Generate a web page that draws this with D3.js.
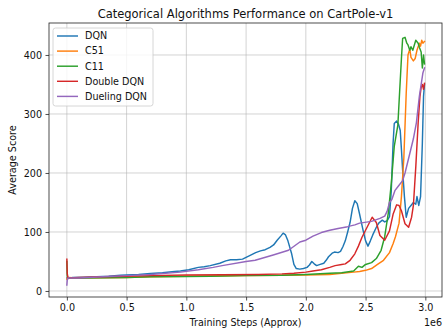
<!DOCTYPE html>
<html>
<head>
<meta charset="utf-8">
<script src="https://cdn.jsdelivr.net/npm/d3@7"></script>
<style>
  html, body { margin: 0; padding: 0; background: #ffffff; }
  svg { display: block; font-family: "DejaVu Sans", sans-serif; }
</style>
</head>
<body>
<svg id="chart" width="444" height="328"></svg>
<script>
// Training steps are in millions (axis offset label "1e6"); values are average episode scores.
const seriesNames = ["DQN", "C51", "C11", "Double DQN", "Dueling DQN"];
const seriesColors = ["#1f77b4", "#ff7f0e", "#2ca02c", "#d62728", "#9467bd"];

const dqn = [[0,22],[0.005,21],[0.05,23],[0.15,23.5],[0.25,24],[0.35,25],[0.45,26.5],[0.5,27],[0.6,28],[0.7,29.5],[0.8,31],[0.9,33],[0.95,34],[1.02,36],[1.1,40],[1.15,41],[1.2,43],[1.28,47],[1.33,51],[1.37,53],[1.42,53],[1.47,54],[1.5,57],[1.53,60],[1.58,65],[1.62,68],[1.66,70],[1.7,74],[1.73,78],[1.76,86],[1.79,93],[1.81,98],[1.83,95],[1.85,85],[1.88,64],[1.9,45],[1.92,38],[1.95,37],[1.98,38],[2.01,40],[2.03,44],[2.05,50],[2.07,46],[2.09,43],[2.12,45],[2.15,47],[2.17,52],[2.19,58],[2.22,64],[2.24,66],[2.27,65],[2.29,67],[2.31,75],[2.33,85],[2.35,100],[2.37,116],[2.39,140],[2.41,153],[2.43,148],[2.45,130],[2.48,102],[2.5,85],[2.52,76],[2.54,85],[2.56,95],[2.59,108],[2.61,115],[2.64,120],[2.66,117],[2.68,119],[2.7,126],[2.715,170],[2.73,250],[2.74,284],[2.76,288],[2.775,283],[2.79,272],[2.8,240],[2.81,205],[2.825,160],[2.84,125],[2.86,140],[2.88,145],[2.9,150],[2.92,147],[2.93,160],[2.945,145],[2.96,160],[2.975,250],[2.985,330],[2.993,350]];

const c51 = [[0,20],[0.005,23],[0.1,22],[0.3,22.5],[0.5,23],[0.7,24],[1.0,25],[1.2,25.5],[1.5,26],[1.8,26.5],[2.0,27],[2.2,28],[2.3,30],[2.4,32],[2.45,33],[2.5,35],[2.55,38],[2.6,45],[2.65,52],[2.7,65],[2.73,80],[2.75,92],[2.78,115],[2.8,160],[2.82,225],[2.84,335],[2.855,400],[2.87,410],[2.88,396],[2.9,390],[2.915,394],[2.93,408],[2.95,420],[2.96,415],[2.97,425],[2.98,420],[2.993,423]];

const c11 = [[0,50],[0.003,25],[0.01,22],[0.1,22],[0.3,22.5],[0.5,23],[0.7,24],[1.0,24.5],[1.2,25],[1.5,26],[1.8,26.5],[2.0,28],[2.2,30],[2.3,31],[2.4,34],[2.44,42],[2.47,40],[2.5,45],[2.55,48],[2.59,55],[2.63,69],[2.66,92],[2.69,132],[2.715,182],[2.74,245],[2.77,281],[2.785,338],[2.8,394],[2.81,428],[2.83,430],[2.845,420],[2.855,417],[2.87,408],[2.88,414],[2.895,408],[2.92,425],[2.94,420],[2.95,413],[2.965,405],[2.975,378],[2.985,400],[2.993,385]];

const doubleDqn = [[0,54],[0.003,30],[0.01,22],[0.1,23],[0.3,24],[0.5,25],[0.7,26],[1.0,27],[1.3,27.5],[1.6,28],[1.8,29],[1.9,30],[2.0,32],[2.06,34],[2.13,36],[2.2,40],[2.245,43],[2.3,45],[2.33,46],[2.37,52],[2.41,63],[2.44,76],[2.47,91],[2.52,111],[2.555,125],[2.59,116],[2.62,94],[2.66,86],[2.7,102],[2.73,130],[2.76,146],[2.78,145],[2.8,136],[2.83,114],[2.86,108],[2.885,125],[2.9,145],[2.92,210],[2.94,285],[2.955,330],[2.965,345],[2.975,350],[2.985,342],[2.993,352]];

const duelingDqn = [[0,10],[0.003,18],[0.01,22],[0.1,22],[0.3,24],[0.5,26],[0.7,28],[0.95,32],[1.1,36],[1.225,40],[1.3,43],[1.5,50],[1.576,52],[1.727,61],[1.855,69],[1.95,83],[2.0,86],[2.06,93],[2.13,99],[2.2,103],[2.27,106],[2.35,109],[2.41,112],[2.45,115],[2.55,118],[2.62,123],[2.66,127],[2.68,135],[2.7,150],[2.72,155],[2.745,170],[2.775,178],[2.81,187],[2.83,200],[2.87,233],[2.9,258],[2.925,285],[2.95,330],[2.98,370],[2.993,378]];

const xTicks = [0, 0.5, 1.0, 1.5, 2.0, 2.5, 3.0];
const yTicks = [0, 100, 200, 300, 400];

const allSeries = [dqn, c51, c11, doubleDqn, duelingDqn];

const svg = d3.select("#chart");
const plot = { left: 49, right: 442, top: 23, bottom: 297 };

const x = d3.scaleLinear().domain([-0.1495, 3.1395]).range([plot.left, plot.right]);
const y = d3.scaleLinear().domain([-10.2, 454.2]).range([plot.bottom, plot.top]);

// grid
const grid = svg.append("g");
grid.selectAll("line.vx").data(xTicks).join("line")
  .attr("x1", d => x(d)).attr("x2", d => x(d))
  .attr("y1", plot.top).attr("y2", plot.bottom)
  .attr("stroke", "#b0b0b0").attr("stroke-opacity", 0.7).attr("stroke-width", 0.8);
grid.selectAll("line.hy").data(yTicks).join("line")
  .attr("x1", plot.left).attr("x2", plot.right)
  .attr("y1", d => y(d)).attr("y2", d => y(d))
  .attr("stroke", "#b0b0b0").attr("stroke-opacity", 0.7).attr("stroke-width", 0.8);

// series lines
svg.append("defs").append("clipPath").attr("id", "clip")
  .append("rect").attr("x", plot.left).attr("y", plot.top)
  .attr("width", plot.right - plot.left).attr("height", plot.bottom - plot.top);

const line = d3.line().x(d => x(d[0])).y(d => y(d[1]));
svg.append("g").attr("clip-path", "url(#clip)")
  .selectAll("path").data(allSeries).join("path")
  .attr("d", line)
  .attr("fill", "none")
  .attr("stroke", (d, i) => seriesColors[i])
  .attr("stroke-width", 1.45)
  .attr("stroke-linejoin", "round")
  .attr("stroke-linecap", "square");

// axes
const xAxis = d3.axisBottom(x).tickValues(xTicks).tickFormat(d3.format(".1f")).tickSize(3.5).tickPadding(3.5);
const yAxis = d3.axisLeft(y).tickValues(yTicks).tickFormat(d3.format("d")).tickSize(3.5).tickPadding(3.5);

const gx = svg.append("g").attr("transform", `translate(0,${plot.bottom})`).call(xAxis);
const gy = svg.append("g").attr("transform", `translate(${plot.left},0)`).call(yAxis);
[gx, gy].forEach(g => {
  g.select(".domain").remove();
  g.selectAll(".tick line").attr("stroke", "#222").attr("stroke-width", 0.8);
  g.selectAll(".tick text").attr("fill", "#111")
    .style("font-family", "DejaVu Sans").style("font-size", "9.6px");
});

// spines
svg.append("rect")
  .attr("x", plot.left).attr("y", plot.top)
  .attr("width", plot.right - plot.left).attr("height", plot.bottom - plot.top)
  .attr("fill", "none").attr("stroke", "#222").attr("stroke-width", 0.8);

// title and axis labels
svg.append("text")
  .attr("x", (plot.left + plot.right) / 2).attr("y", 17.5)
  .attr("text-anchor", "middle").attr("fill", "#111")
  .style("font-size", "11.5px")
  .text("Categorical Algorithms Performance on CartPole-v1");

svg.append("text")
  .attr("x", (plot.left + plot.right) / 2).attr("y", 326)
  .attr("text-anchor", "middle").attr("fill", "#111")
  .style("font-size", "9.6px")
  .text("Training Steps (Approx)");

svg.append("text")
  .attr("x", plot.right).attr("y", 326)
  .attr("text-anchor", "end").attr("fill", "#111")
  .style("font-size", "9.6px")
  .text("1e6");

svg.append("text")
  .attr("transform", `translate(16,${(plot.top + plot.bottom) / 2}) rotate(-90)`)
  .attr("text-anchor", "middle").attr("fill", "#111")
  .style("font-size", "9.6px")
  .text("Average Score");

// legend
const legend = svg.append("g").attr("transform", "translate(53,28)");
legend.append("rect")
  .attr("x", 0).attr("y", 0).attr("width", 100).attr("height", 78)
  .attr("rx", 2.5)
  .attr("fill", "#ffffff").attr("fill-opacity", 0.8)
  .attr("stroke", "#cccccc").attr("stroke-width", 0.8);
const items = legend.selectAll("g.item").data(seriesNames).join("g")
  .attr("transform", (d, i) => `translate(0,${8 + i * 15.1})`);
items.append("line")
  .attr("x1", 4).attr("x2", 25).attr("y1", 0).attr("y2", 0)
  .attr("stroke", (d, i) => seriesColors[i]).attr("stroke-width", 1.45);
items.append("text")
  .attr("x", 32).attr("y", 0).attr("dy", "0.35em")
  .attr("fill", "#111").style("font-size", "9.6px")
  .text(d => d);
</script>
</body>
</html>
